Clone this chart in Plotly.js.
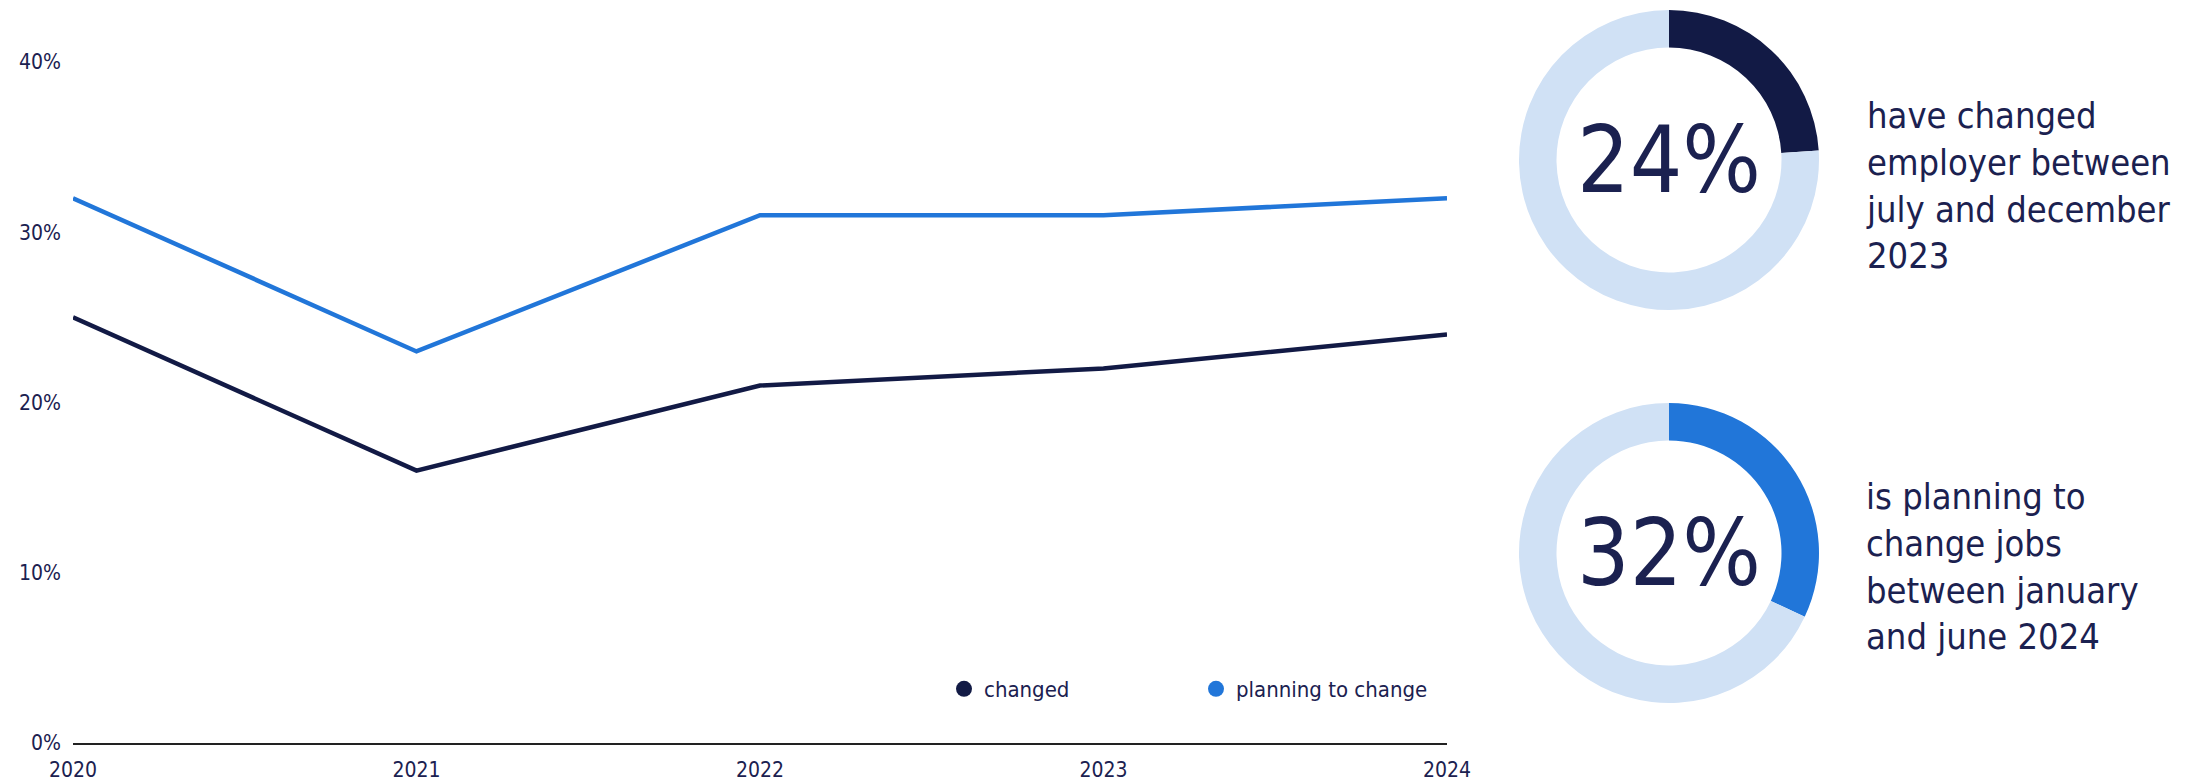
<!DOCTYPE html>
<html>
<head>
<meta charset="utf-8">
<script src="https://cdn.plot.ly/plotly-3.0.1.min.js"></script>
<style>html,body{margin:0;padding:0;background:#fff;}#chart{width:2196px;height:781px;}</style>
</head>
<body>
<div id="chart"></div>
<script>
const years = [2020, 2021, 2022, 2023, 2024];
const changed = [25, 16, 21, 22, 24];
const planning = [32, 23, 31, 31, 32];
const yTicks = [0, 10, 20, 30, 40];
const yTickText = ['0%', '10%', '20%', '30%', '40%'];
const seriesNames = ['changed', 'planning to change'];
const donutChanged = [24, 76];
const donutPlanning = [32, 68];
const donutLabels = ['24%', '32%'];
const donutTexts = ['have changed<br>employer between<br>july and december<br>2023', 'is planning to<br>change jobs<br>between january<br>and june 2024'];

const W = 2196, H = 781;
const FONT = '"DejaVu Sans Condensed", "DejaVu Sans", Tahoma, sans-serif';
const NAVY = '#121A45', BLUE = '#2176D9', LIGHT = '#D0E1F5', TXT = '#1B2150';

const px = v => v / W, py = v => 1 - v / H;

function donutDomain(cx, cy, r) {
  return {x: [px(cx - r), px(cx + r)], y: [py(cy + r), py(cy - r)]};
}

const traces = [
  {x: years, y: changed, type: 'scatter', mode: 'lines', name: seriesNames[0], showlegend: false,
   line: {color: NAVY, width: 4.5}, hoverinfo: 'x+y'},
  {x: years, y: planning, type: 'scatter', mode: 'lines', name: seriesNames[1], showlegend: false,
   line: {color: BLUE, width: 4.5}, hoverinfo: 'x+y'},
  {x: [null], y: [null], type: 'scatter', mode: 'markers', name: seriesNames[0], showlegend: true,
   marker: {color: NAVY, size: 16, symbol: 'circle'}},
  {x: [null], y: [null], type: 'scatter', mode: 'markers', name: seriesNames[1], showlegend: true,
   marker: {color: BLUE, size: 16, symbol: 'circle'}},
  {type: 'pie', values: donutChanged, labels: ['changed', 'rest'], hole: 0.75, sort: false,
   direction: 'clockwise', rotation: 0, textinfo: 'none', hoverinfo: 'skip', showlegend: false,
   marker: {colors: [NAVY, LIGHT], line: {width: 0}}, domain: donutDomain(1669, 160, 150)},
  {type: 'pie', values: donutPlanning, labels: ['planning', 'rest'], hole: 0.75, sort: false,
   direction: 'clockwise', rotation: 0, textinfo: 'none', hoverinfo: 'skip', showlegend: false,
   marker: {colors: [BLUE, LIGHT], line: {width: 0}}, domain: donutDomain(1669, 553, 150)}
];

const layout = {
  width: W, height: H,
  margin: {l: 0, r: 0, t: 0, b: 0},
  paper_bgcolor: '#fff', plot_bgcolor: '#fff',
  font: {family: FONT, color: TXT, size: 21},
  xaxis: {domain: [px(73), px(1447)], range: [2020, 2024], tickvals: years, ticktext: years.map(String),
          showgrid: false, zeroline: false, showline: true, linecolor: '#222', linewidth: 2,
          ticks: '', ticklabelstandoff: 7, tickfont: {size: 21, color: TXT}, fixedrange: true},
  yaxis: {domain: [py(743), py(62)], range: [0, 40], tickvals: yTicks, ticktext: yTickText,
          showgrid: false, zeroline: false, showline: false, ticks: '', ticklabelstandoff: 11,
          tickfont: {size: 21, color: TXT}, fixedrange: true},
  showlegend: true,
  legend: {orientation: 'h', x: px(944), y: py(689), xanchor: 'left', yanchor: 'middle',
           entrywidth: 207, entrywidthmode: 'pixels', font: {size: 22, color: TXT}, bgcolor: 'rgba(0,0,0,0)'},
  annotations: [
    {text: donutLabels[0], x: px(1669), y: py(160), xref: 'paper', yref: 'paper', showarrow: false,
     font: {size: 92, color: TXT, family: FONT}, xanchor: 'center', yanchor: 'middle'},
    {text: donutLabels[1], x: px(1669), y: py(553), xref: 'paper', yref: 'paper', showarrow: false,
     font: {size: 92, color: TXT, family: FONT}, xanchor: 'center', yanchor: 'middle'},
    {text: donutTexts[0], x: px(1864), y: py(185), xref: 'paper', yref: 'paper', showarrow: false,
     align: 'left', font: {size: 36, color: TXT, family: FONT}, xanchor: 'left', yanchor: 'middle'},
    {text: donutTexts[1], x: px(1864), y: py(566), xref: 'paper', yref: 'paper', showarrow: false,
     align: 'left', font: {size: 36, color: TXT, family: FONT}, xanchor: 'left', yanchor: 'middle'}
  ]
};

Plotly.newPlot('chart', traces, layout, {displayModeBar: false, staticPlot: true});
</script>
</body>
</html>
